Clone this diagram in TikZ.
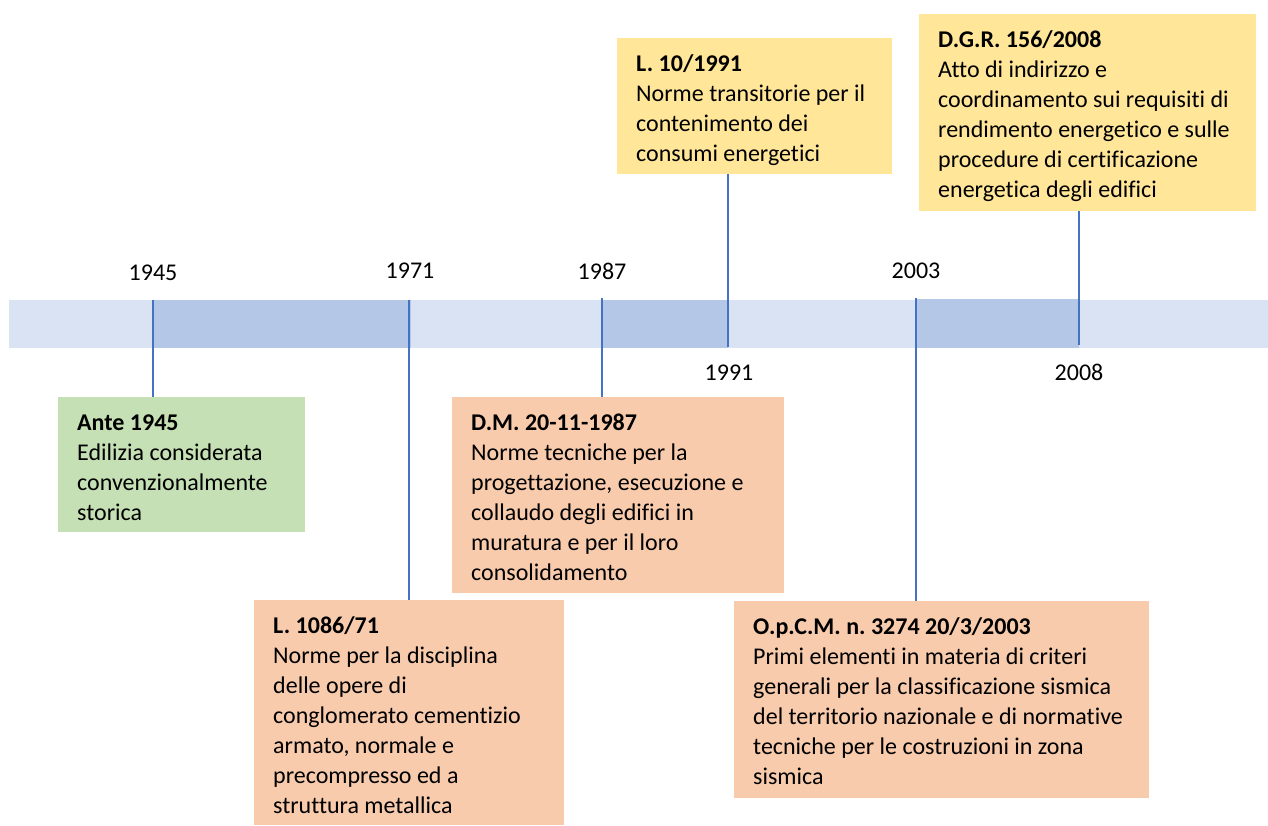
\documentclass[tikz,border=0pt]{standalone}
\usepackage{fontspec}
\setmainfont{Carlito}[Ligatures={NoCommon}]
\frenchspacing
\definecolor{barlight}{HTML}{DAE3F3}
\definecolor{bardark}{HTML}{B4C7E7}
\definecolor{tickblue}{HTML}{4472C4}
\definecolor{boxgreen}{HTML}{C5E0B4}
\definecolor{boxorange}{HTML}{F8CBAD}
\definecolor{boxyellow}{HTML}{FFE699}
\newcommand{\evtitle}[1]{\rule{0pt}{33pt}\textbf{#1}}

\begin{document}
\begin{tikzpicture}[x=1pt, y=-1pt,
    evbox/.style={rectangle, anchor=north west, inner sep=0pt, outer sep=0pt},
    evtext/.style={anchor=north west, align=left, inner xsep=19pt, inner ysep=0pt,
      font=\fontsize{24pt}{30pt}\selectfont},
    yearlbl/.style={anchor=base, inner sep=0pt, font=\fontsize{24pt}{27pt}\selectfont},
    tick/.style={tickblue, line width=1.3pt}]

        \useasboundingbox (0,0) rectangle (1268,825);

        % Time bar with highlighted periods
        \fill[barlight] (9,300) rectangle (1268,348);
        \fill[bardark] (153,300) rectangle (411,348);
        \fill[bardark] (602,300) rectangle (728,348);
        \fill[bardark] (916,299) rectangle (1079,348);

        % Event boxes
        \node[evbox, fill=boxgreen, minimum width=247pt, minimum height=135pt] (ante) at (58,397) {};
        \node[evbox, fill=boxorange, minimum width=310pt, minimum height=225pt] (legge71) at (254,600) {};
        \node[evbox, fill=boxorange, minimum width=332pt, minimum height=196pt] (dm87) at (452,397) {};
        \node[evbox, fill=boxorange, minimum width=415pt, minimum height=197pt] (opcm03) at (734,601) {};
        \node[evbox, fill=boxyellow, minimum width=275pt, minimum height=136pt] (legge91) at (617,38) {};
        \node[evbox, fill=boxyellow, minimum width=337pt, minimum height=197pt] (dgr08) at (919,14) {};

        % Box texts
        \node[evtext] (ante-txt) at (ante.north west)
          {\evtitle{Ante 1945}\\Edilizia considerata\\convenzionalmente\\storica};
        \node[evtext] (legge71-txt) at (legge71.north west)
          {\evtitle{L. 1086/71}\\Norme per la disciplina\\delle opere di\\conglomerato cementizio\\armato, normale e\\precompresso ed a\\struttura metallica};
        \node[evtext] (dm87-txt) at (dm87.north west)
          {\evtitle{D.M. 20-11-1987}\\Norme tecniche per la\\progettazione, esecuzione e\\collaudo degli edifici in\\muratura e per il loro\\consolidamento};
        \node[evtext] (opcm03-txt) at (opcm03.north west)
          {\evtitle{O.p.C.M. n. 3274 20/3/2003}\\Primi elementi in materia di criteri\\generali per la classificazione sismica\\del territorio nazionale e di normative\\tecniche per le costruzioni in zona\\sismica};
        \node[evtext] (legge91-txt) at (legge91.north west)
          {\evtitle{L. 10/1991}\\Norme transitorie per il\\contenimento dei\\consumi energetici};
        \node[evtext] (dgr08-txt) at (dgr08.north west)
          {\evtitle{D.G.R. 156/2008}\\Atto di indirizzo e\\coordinamento sui requisiti di\\rendimento energetico e sulle\\procedure di certificazione\\energetica degli edifici};

        % Years
        \node[yearlbl] (y45) at (153,280) {1945};
        \node[yearlbl] (y71) at (410,278) {1971};
        \node[yearlbl] (y87) at (602,279) {1987};
        \node[yearlbl] (y03) at (916,278) {2003};
        \node[yearlbl] (y91) at (729,380) {1991};
        \node[yearlbl] (y08) at (1079,380) {2008};

        % Ticks from the bar to the boxes
        \coordinate (k45) at (153,300);
        \coordinate (k71) at (409,300);
        \coordinate (k87) at (602,298);
        \coordinate (k03) at (916,298);
        \coordinate (k91) at (728,347);
        \coordinate (k08) at (1079,345);
        \draw[tick] (k45) -- (k45 |- ante.north);
        \draw[tick] (k71) -- (k71 |- legge71.north);
        \draw[tick] (k87) -- (k87 |- dm87.north);
        \draw[tick] (k03) -- (k03 |- opcm03.north);
        \draw[tick] (k91) -- (k91 |- legge91.south);
        \draw[tick] (k08) -- (k08 |- dgr08.south);
    \end{tikzpicture}
\end{document}
